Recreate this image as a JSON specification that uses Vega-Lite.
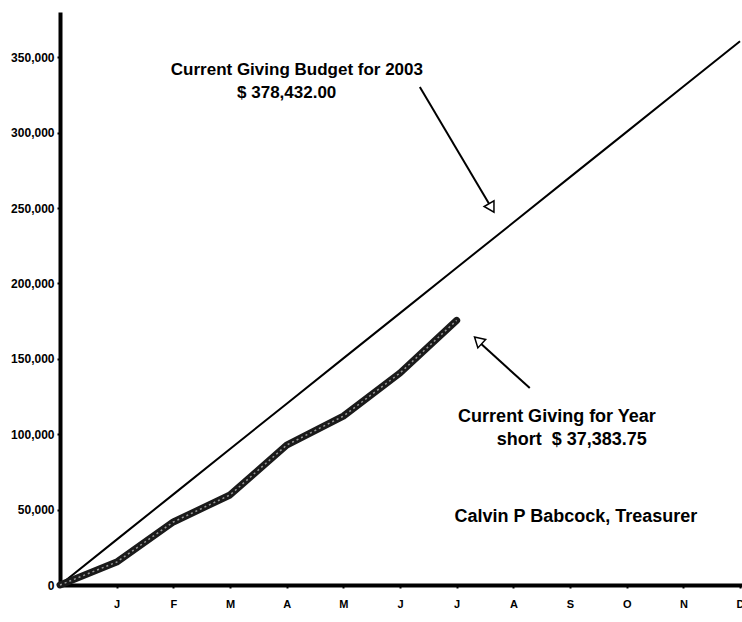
{
  "$schema": "https://vega.github.io/schema/vega-lite/v6.json",
  "autosize": "none",
  "width": 682,
  "height": 573,
  "padding": {"left": 60, "top": 12, "right": 0, "bottom": 37},
  "background": "white",
  "config": {
    "view": {"stroke": null},
    "font": "Liberation Sans",
    "axis": {"grid": false, "domainColor": "black", "tickColor": "black", "labelColor": "black", "labelFont": "Liberation Sans", "labelFontWeight": "bold", "labelFontSize": 10, "title": null}
  },
  "datasets": {
    "budget": [
      {"month": 0, "amount": 0}, {"month": 1, "amount": 30100}, {"month": 2, "amount": 60100},
      {"month": 3, "amount": 90200}, {"month": 4, "amount": 120200}, {"month": 5, "amount": 150300},
      {"month": 6, "amount": 180300}, {"month": 7, "amount": 210400}, {"month": 8, "amount": 240400},
      {"month": 9, "amount": 270500}, {"month": 10, "amount": 300500}, {"month": 11, "amount": 330600},
      {"month": 12, "amount": 360600}
    ],
    "giving": [
      {"month": 0, "amount": 0}, {"month": 1, "amount": 15200}, {"month": 2, "amount": 41800},
      {"month": 3, "amount": 59700}, {"month": 4, "amount": 92800}, {"month": 5, "amount": 112000},
      {"month": 6, "amount": 140600}, {"month": 7, "amount": 175500}
    ],
    "notes": [
      {"x": 4.18, "y": 341400, "text": "Current Giving Budget for 2003", "size": 17},
      {"x": 4.0, "y": 326200, "text": "$ 378,432.00", "size": 17},
      {"x": 8.77, "y": 111400, "text": "Current Giving for Year", "size": 18},
      {"x": 9.03, "y": 96100, "text": "short\u00a0 $ 37,383.75", "size": 18},
      {"x": 9.105, "y": 45100, "text": "Calvin P Babcock, Treasurer", "size": 18}
    ],
    "arrows": [
      {"x": 6.35, "y": 330200, "x2": 7.6, "y2": 251000, "hx": 7.6, "hy": 251000, "angle": 150},
      {"x": 8.29, "y": 130600, "x2": 7.4, "y2": 161000, "hx": 7.4, "hy": 161500, "angle": 313}
    ]
  },
  "layer": [
    {
      "data": {"name": "budget"},
      "mark": {"type": "line", "color": "black", "strokeWidth": 2, "clip": false},
      "encoding": {
        "x": {"field": "month", "type": "quantitative", "scale": {"domain": [0, 12.035], "nice": false, "zero": false},
          "axis": {"values": [1,2,3,4,5,6,7,8,9,10,11,12], "labelExpr": "['J','F','M','A','M','J','J','A','S','O','N','D'][datum.value-1]", "domainWidth": 4, "tickSize": 3, "tickWidth": 2, "labelPadding": 10, "labelFontSize": 11}},
        "y": {"field": "amount", "type": "quantitative", "scale": {"domain": [0, 380000], "nice": false},
          "axis": {"values": [0,50000,100000,150000,200000,250000,300000,350000], "labelExpr": "format(datum.value, ',')", "domainWidth": 4, "tickSize": 3, "tickWidth": 2, "labelPadding": 3, "labelFontSize": 12}}
      }
    },
    {
      "data": {"name": "giving"},
      "mark": {"type": "line", "color": "#1a1a1a", "strokeWidth": 7, "strokeCap": "round", "strokeJoin": "round"},
      "encoding": {
        "x": {"field": "month", "type": "quantitative"},
        "y": {"field": "amount", "type": "quantitative"}
      }
    },
    {
      "data": {"name": "giving"},
      "mark": {"type": "line", "color": "#9a9a9a", "strokeWidth": 1.5, "strokeDash": [2, 3]},
      "encoding": {
        "x": {"field": "month", "type": "quantitative"},
        "y": {"field": "amount", "type": "quantitative"}
      }
    },
    {
      "data": {"name": "arrows"},
      "mark": {"type": "rule", "color": "black", "strokeWidth": 2},
      "encoding": {
        "x": {"field": "x", "type": "quantitative"},
        "y": {"field": "y", "type": "quantitative"},
        "x2": {"field": "x2"},
        "y2": {"field": "y2"}
      }
    },
    {
      "data": {"name": "arrows"},
      "mark": {"type": "point", "shape": "triangle", "filled": true, "fill": "white", "stroke": "black", "strokeWidth": 1.5, "size": 130, "opacity": 1},
      "encoding": {
        "x": {"field": "hx", "type": "quantitative"},
        "y": {"field": "hy", "type": "quantitative"},
        "angle": {"field": "angle", "type": "quantitative", "scale": null}
      }
    },
    {
      "data": {"name": "notes"},
      "mark": {"type": "text", "font": "Liberation Sans", "fontWeight": "bold", "align": "center", "baseline": "middle", "color": "black"},
      "encoding": {
        "x": {"field": "x", "type": "quantitative"},
        "y": {"field": "y", "type": "quantitative"},
        "text": {"field": "text"},
        "size": {"field": "size", "type": "quantitative", "scale": null}
      }
    }
  ]
}
